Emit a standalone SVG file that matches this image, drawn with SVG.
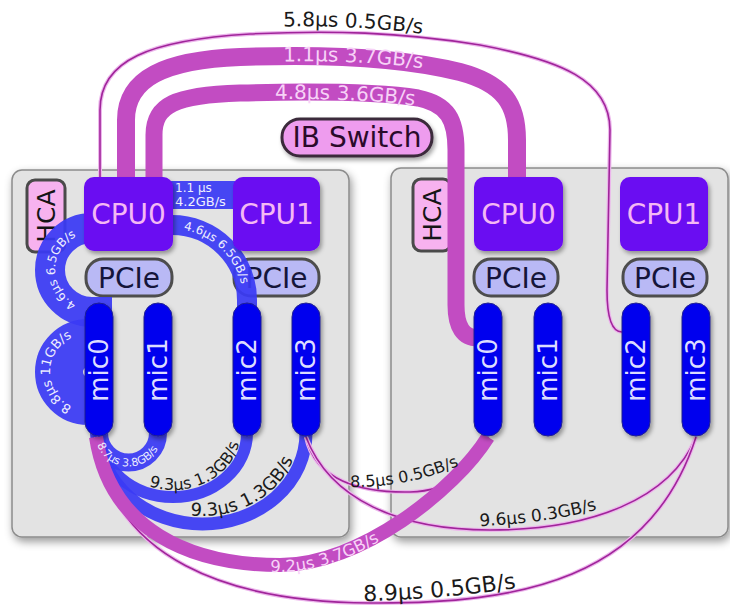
<svg xmlns="http://www.w3.org/2000/svg" width="730" height="607" viewBox="0 0 730 607">
<defs>
<filter id="shadow" x="-30%" y="-30%" width="160%" height="160%">
<feDropShadow dx="2" dy="3" stdDeviation="2.2" flood-color="#000" flood-opacity="0.35"/>
</filter>
<filter id="boxshadow" x="-10%" y="-10%" width="120%" height="120%">
<feDropShadow dx="2" dy="4" stdDeviation="4" flood-color="#000" flood-opacity="0.4"/>
</filter>
<path id="tp58" d="M235,28 C300,25 380,24 475,42"/>
<path id="tp11" d="M235,63 C300,60 390,59 475,77"/>
<path id="tp48" d="M235,100 C300,98 385,98 450,111"/>
<path id="tpL" d="M92,307 A37,37 0 0 1 92,233"/>
<path id="tpLoop" d="M88,410 A38,38 0 0 1 88,334"/>
<path id="tpR" d="M172,229 A71,71 0 0 1 243,300"/>
<path id="tpU1" d="M95,433 A33.5,33.5 0 0 0 162,433"/>
<path id="tpU2" d="M106,433 A67,57 0 0 0 240,433"/>
<path id="tpU3" d="M107,433 A95.5,83 0 0 0 298,433"/>
<path id="tp92" d="M96,444 C110,537 190,572 280,572 C360,572 455,497 494,437"/>
<path id="tp89" d="M330,602 C400,601 470,597 545,583"/>
<path id="tp85" d="M335,487 C380,489 430,481 468,461"/>
<path id="tp96" d="M440,527 C490,527 560,523 615,504"/>
</defs>
<style>
text { font-family: "DejaVu Sans", "Liberation Sans", sans-serif; }
.box { fill:#e3e3e3; stroke:#8c8c8c; stroke-width:1.5; filter:url(#boxshadow); }
.cpu rect { fill:#6a08f2; filter:url(#shadow); }
.cpu text { fill:#f4b8f4; font-size:28px; text-anchor:middle; }
.pcie rect { fill:#b9b9f5; stroke:#4d4d4d; stroke-width:3; }
.pcie text { fill:#15153a; font-size:28px; text-anchor:middle; }
.mic rect { fill:#0000ee; stroke:#202090; stroke-width:1; filter:url(#shadow); }
.mic text { fill:#dcdcff; font-size:26px; text-anchor:middle; }
.hca rect { fill:#f7b2ef; stroke:#4a4a4a; stroke-width:3; }
.hca text { fill:#151515; font-size:25px; text-anchor:middle; }
.ib rect { fill:#ee9cee; stroke:#3a2a3a; stroke-width:3; filter:url(#shadow); }
.ib text { fill:#2a0a2a; font-size:28px; text-anchor:middle; }
.mag { fill:none; stroke:#c24cc2; stroke-linecap:butt; }
.thin { fill:none; stroke:#a0249a; stroke-width:1.6; }
.halo { fill:none; stroke:#ecb6ec; stroke-width:4; }
.blue { fill:none; stroke:#3a3af4; stroke-opacity:0.93; stroke-linecap:butt; }
.dark { fill:#1a1a1a; text-anchor:middle; }
.pink { fill:#f7d2f7; text-anchor:middle; }
.white { fill:#eeeeff; text-anchor:middle; }
.wl { fill:#eeeeff; }
</style>

<rect width="730" height="607" fill="#ffffff"/>

<g id="node-left-box"><rect class="box" x="12" y="170" width="337" height="367" rx="10"/></g>
<g id="node-right-box"><rect class="box" x="391" y="168" width="337" height="369" rx="10"/></g>

<g id="ib-switch" class="ib"><rect x="282" y="119" width="150" height="37" rx="18"/><text x="357" y="147">IB Switch</text></g>

<g id="l-hca" class="hca"><rect x="27" y="180" width="38" height="72" rx="8"/><text transform="rotate(-90 46 216)" x="46" y="225">HCA</text></g>
<g id="r-hca" class="hca"><rect x="413" y="179" width="38" height="72" rx="8"/><text transform="rotate(-90 432 215)" x="432" y="224">HCA</text></g>

<g id="l-pcie0" class="pcie"><rect x="86" y="259" width="86" height="37" rx="17"/><text x="129" y="288">PCIe</text></g>
<g id="l-pcie1" class="pcie"><rect x="234" y="259" width="85" height="37" rx="17"/><text x="276.5" y="288">PCIe</text></g>
<g id="r-pcie0" class="pcie"><rect x="474" y="259" width="84" height="37" rx="17"/><text x="516" y="288">PCIe</text></g>
<g id="r-pcie1" class="pcie"><rect x="623" y="259" width="84" height="37" rx="17"/><text x="665" y="288">PCIe</text></g>

<g id="connectors">
<!-- blue intra-node links -->
<rect x="165" y="181" width="75" height="28" fill="#3a3af4" fill-opacity="0.93"/>
<path class="blue" stroke-width="30" d="M112,312 H92 A42,42 0 0 1 92,228 H110"/>
<path class="blue" stroke-width="48" d="M100,401 H88 A29,29 0 0 1 88,343 H100"/>
<path class="blue" stroke-width="20" d="M160,225 H172 A75,75 0 0 1 247,300 V310"/>
<path class="blue" stroke-width="13" d="M99,433 A103.5,91 0 0 0 306,433"/>
<path class="blue" stroke-width="12" d="M99,433 A74,64 0 0 0 247,433"/>
<path class="blue" stroke-width="18" d="M99,433 A29.5,29.5 0 0 0 158,433"/>

<!-- magenta inter-node links -->
<path class="halo" d="M100,178 L100,110 C100,60 150,40 250,34 C330,30 400,32 480,45 C560,60 610,80 610,130 L607,290 Q607,332 622,332"/>
<path class="thin" d="M100,178 L100,110 C100,60 150,40 250,34 C330,30 400,32 480,45 C560,60 610,80 610,130 L607,290 Q607,332 622,332"/>
<path class="mag" stroke-width="18" d="M126,178 L126,120 C126,78 165,60 240,57 C320,54 400,57 460,72 C505,84 517,105 517,140 L517,180"/>
<path class="mag" stroke-width="17" d="M154,178 L154,135 C154,105 175,95 240,93 C320,91 380,92 418,98 C448,104 456,120 456,150 L456,305 Q456,338 478,338"/>
<path class="halo" d="M306,437 C315,480 360,493 410,492 C450,491 478,470 488,437"/>
<path class="thin" d="M306,437 C315,480 360,493 410,492 C450,491 478,470 488,437"/>
<path class="halo" d="M306,437 C330,500 400,530 490,530 C590,530 670,500 696,437"/>
<path class="thin" d="M306,437 C330,500 400,530 490,530 C590,530 670,500 696,437"/>
<path class="halo" d="M96,437 C110,560 230,602 370,603 C520,604 650,580 696,437"/>
<path class="thin" d="M96,437 C110,560 230,602 370,603 C520,604 650,580 696,437"/>
<path class="mag" stroke-width="14" d="M96,437 C110,530 190,565 280,565 C360,565 455,490 488,437"/>

<!-- labels -->
<text class="wl" font-size="12" x="175" y="192">1.1 µs</text>
<text class="wl" font-size="13" x="175" y="206">4.2GB/s</text>
<text class="white" font-size="12"><textPath href="#tpL" startOffset="50%">4.6µs 6.5GB/s</textPath></text>
<text class="white" font-size="13"><textPath href="#tpLoop" startOffset="50%">8.8µs 11GB/s</textPath></text>
<text class="white" font-size="12"><textPath href="#tpR" startOffset="48%">4.6µs 6.5GB/s</textPath></text>
<text class="white" font-size="11"><textPath href="#tpU1" startOffset="48%">8.7µs 3.8GB/s</textPath></text>
<text class="dark" font-size="16"><textPath href="#tpU2" startOffset="66%">9.3µs 1.3GB/s</textPath></text>
<text class="dark" font-size="18"><textPath href="#tpU3" startOffset="68%">9.3µs 1.3GB/s</textPath></text>
<text class="dark" font-size="20"><textPath href="#tp58" startOffset="49%">5.8µs 0.5GB/s</textPath></text>
<text class="pink" font-size="20"><textPath href="#tp11" startOffset="49%">1.1µs 3.7GB/s</textPath></text>
<text class="pink" font-size="20"><textPath href="#tp48" startOffset="51%">4.8µs 3.6GB/s</textPath></text>
<text class="pink" font-size="16.5"><textPath href="#tp92" startOffset="58%">9.2µs 3.7GB/s</textPath></text>
<text class="dark" font-size="22"><textPath href="#tp89" startOffset="51%">8.9µs 0.5GB/s</textPath></text>
<text class="dark" font-size="16"><textPath href="#tp85" startOffset="52%">8.5µs 0.5GB/s</textPath></text>
<text class="dark" font-size="17"><textPath href="#tp96" startOffset="56%">9.6µs 0.3GB/s</textPath></text>
</g>

<g id="l-cpu0" class="cpu"><rect x="84" y="177" width="89" height="74" rx="10"/><text x="128.5" y="224">CPU0</text></g>
<g id="l-cpu1" class="cpu"><rect x="233" y="177" width="87" height="74" rx="10"/><text x="276.5" y="224">CPU1</text></g>
<g id="r-cpu0" class="cpu"><rect x="474" y="177" width="89" height="74" rx="10"/><text x="518.5" y="224">CPU0</text></g>
<g id="r-cpu1" class="cpu"><rect x="620" y="177" width="88" height="74" rx="10"/><text x="664" y="224">CPU1</text></g>

<g id="l-mic0" class="mic"><rect x="85" y="303" width="28" height="133" rx="14"/><text transform="rotate(-90 99 370)" x="99" y="379">mic0</text></g>
<g id="l-mic1" class="mic"><rect x="144" y="303" width="28" height="133" rx="14"/><text transform="rotate(-90 158 370)" x="158" y="379">mic1</text></g>
<g id="l-mic2" class="mic"><rect x="233" y="303" width="28" height="133" rx="14"/><text transform="rotate(-90 247 370)" x="247" y="379">mic2</text></g>
<g id="l-mic3" class="mic"><rect x="292" y="303" width="28" height="133" rx="14"/><text transform="rotate(-90 306 370)" x="306" y="379">mic3</text></g>
<g id="r-mic0" class="mic"><rect x="474" y="303" width="28" height="133" rx="14"/><text transform="rotate(-90 488 370)" x="488" y="379">mic0</text></g>
<g id="r-mic1" class="mic"><rect x="534" y="303" width="28" height="133" rx="14"/><text transform="rotate(-90 548 370)" x="548" y="379">mic1</text></g>
<g id="r-mic2" class="mic"><rect x="622" y="303" width="28" height="133" rx="14"/><text transform="rotate(-90 636 370)" x="636" y="379">mic2</text></g>
<g id="r-mic3" class="mic"><rect x="682" y="303" width="28" height="133" rx="14"/><text transform="rotate(-90 696 370)" x="696" y="379">mic3</text></g>
</svg>
